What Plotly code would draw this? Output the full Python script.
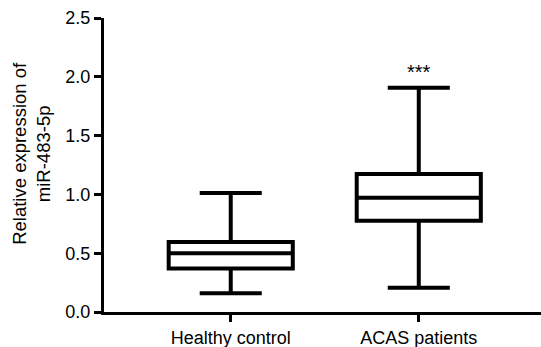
import plotly.graph_objects as go

groups = ["Healthy control", "ACAS patients"]
lower = [0.16, 0.207]
q1 = [0.37, 0.776]
median = [0.50, 0.972]
q3 = [0.595, 1.173]
upper = [1.012, 1.907]
sig_labels = ["", "***"]
sig_y = 2.04

fig = go.Figure()
fig.add_trace(go.Box(
    x=[0, 1], q1=q1, median=median, q3=q3,
    lowerfence=lower, upperfence=upper,
    width=0.66, whiskerwidth=0.5,
    fillcolor="white", line=dict(color="black", width=4),
    boxpoints=False, showlegend=False, hoverinfo="skip",
))

for i, s in enumerate(sig_labels):
    if s:
        fig.add_annotation(x=i, y=sig_y, text=s, showarrow=False,
                           font=dict(size=20, color="black"), yanchor="middle")

fig.add_annotation(
    xref="paper", yref="paper", x=-0.165, y=0.541,
    text="Relative expression of<br>miR-483-5p", textangle=-90,
    showarrow=False, font=dict(size=18.5, color="black"),
    xanchor="center", yanchor="middle",
)

fig.update_layout(
    width=541, height=347,
    margin=dict(l=104, r=0, t=18, b=35),
    plot_bgcolor="white", paper_bgcolor="white",
    font=dict(family="Liberation Sans, Arial, sans-serif", size=18, color="black"),
    xaxis=dict(
        range=[-0.674, 1.65], tickvals=[0, 1], ticktext=groups,
        showline=True, linecolor="black", linewidth=3,
        ticks="outside", ticklen=7, tickwidth=3, tickcolor="black",
        showgrid=False, zeroline=False, fixedrange=True,
    ),
    yaxis=dict(
        range=[0, 2.5], tickvals=[0, 0.5, 1.0, 1.5, 2.0, 2.5],
        ticktext=["0.0", "0.5", "1.0", "1.5", "2.0", "2.5"],
        showline=True, linecolor="black", linewidth=3,
        ticks="outside", ticklen=7, tickwidth=3, tickcolor="black",
        showgrid=False, zeroline=False, fixedrange=True,
    ),
)

fig.write_html("out.html", config={"displayModeBar": False},
               post_script="document.body.style.margin='0';")
